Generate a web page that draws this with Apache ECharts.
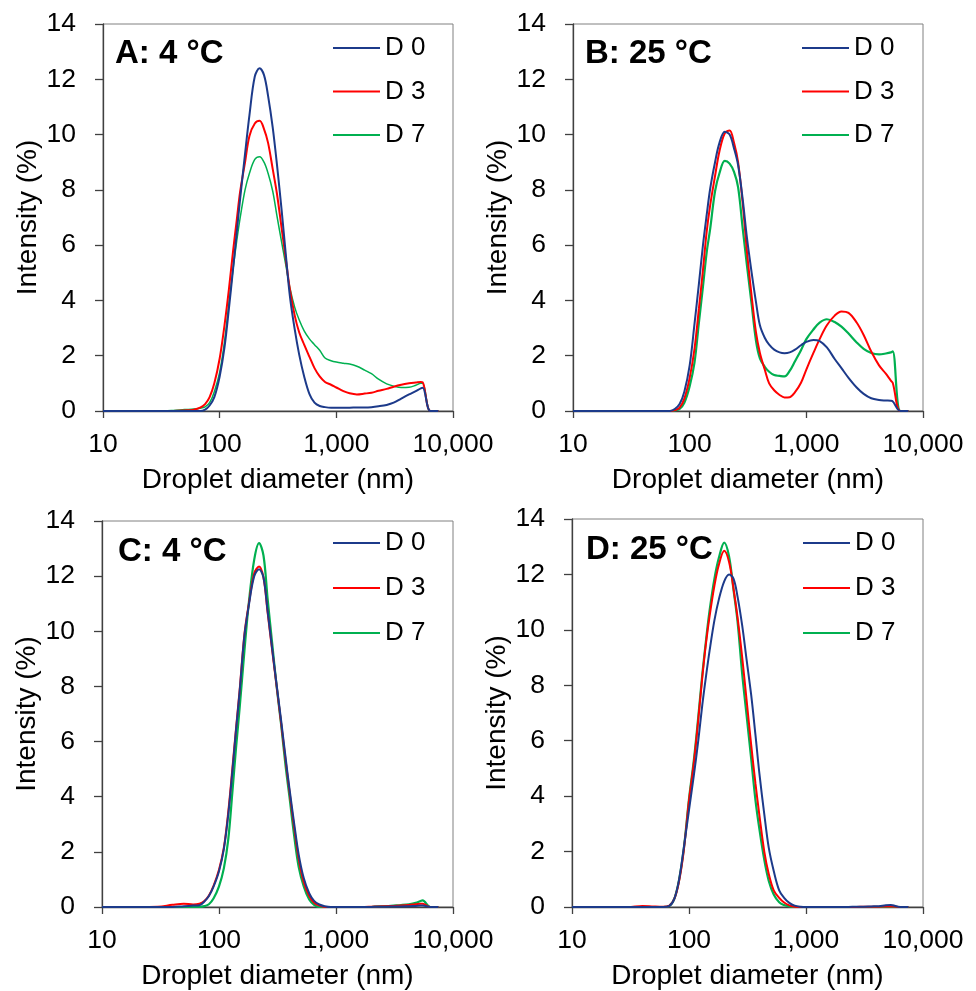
<!DOCTYPE html>
<html>
<head>
<meta charset="utf-8">
<script src="https://cdn.jsdelivr.net/npm/echarts@6/dist/echarts.min.js"></script>
<style>
  html, body { margin: 0; padding: 0; background: #fff; }
  #main { width: 976px; height: 991px; }
</style>
</head>
<body>
<div id="main"></div>
<script>
// droplet diameter bins (nm)
var sizes = [10, 20, 30, 40, 50, 60, 68, 75, 82, 90,
    100, 110, 120, 130, 140, 150, 165, 180, 200, 220,
    240, 260, 285, 310, 340, 370, 400, 440, 480, 530,
    590, 650, 720, 800, 900, 1000, 1150, 1300, 1500, 1750,
    2000, 2300, 2700, 3100, 3600, 4200, 4800, 5300, 5500, 6400,
    7500];
var seriesNames = ['D 0', 'D 3', 'D 7'];
var xTicks = [10, 100, 1000, 10000];
var yTicks = [0, 2, 4, 6, 8, 10, 12, 14];

// A: 4 °C
var aD0 = [0, 0, 0, 0, 0, 0, 0, 0.05, 0.2, 0.5,
    1.25, 2.3, 3.7, 5.1, 6.45, 7.7, 9.3, 10.7, 12.1, 12.4,
    12.15, 11.4, 10.25, 8.9, 7.25, 5.6, 4.15, 2.95, 2.05, 1.25,
    0.6, 0.3, 0.18, 0.14, 0.12, 0.12, 0.12, 0.12, 0.13, 0.13,
    0.14, 0.17, 0.22, 0.3, 0.45, 0.6, 0.72, 0.82, 0.84, 0,
    0];
var aD3 = [0, 0, 0, 0, 0.02, 0.05, 0.12, 0.25, 0.5, 1.0,
    1.9, 3.1, 4.4, 5.75, 6.9, 7.95, 9.0, 9.95, 10.4, 10.5,
    10.2, 9.7, 8.75, 7.85, 6.6, 5.45, 4.4, 3.45, 2.85, 2.4,
    1.95, 1.55, 1.25, 1.05, 0.95, 0.85, 0.72, 0.64, 0.6, 0.63,
    0.66, 0.73, 0.8, 0.88, 0.95, 1.0, 1.03, 1.05, 1.04, 0,
    0];
var aD7 = [0, 0, 0, 0.02, 0.05, 0.07, 0.1, 0.15, 0.3, 0.7,
    1.4, 2.5, 3.9, 5.1, 6.15, 7.0, 8.0, 8.6, 9.1, 9.2,
    9.0, 8.6, 7.95, 7.05, 6.1, 5.25, 4.45, 3.75, 3.3, 2.9,
    2.6, 2.4, 2.2, 1.92, 1.82, 1.77, 1.73, 1.7, 1.62, 1.48,
    1.35, 1.15, 0.98, 0.9, 0.85, 0.86, 0.93, 1.0, 1.0, 0,
    0];

// B: 25 °C
var bD0 = [0, 0, 0, 0, 0, 0, 0, 0.08, 0.25, 0.7,
    1.65, 3.15, 4.6, 6.0, 7.1, 8.05, 9.0, 9.7, 10.1, 10.0,
    9.5, 8.9, 7.65, 6.25, 5.0, 3.95, 3.1, 2.65, 2.4, 2.22,
    2.12, 2.09, 2.12, 2.22, 2.38, 2.5, 2.57, 2.53, 2.3, 1.88,
    1.55, 1.2, 0.85, 0.62, 0.46, 0.4, 0.38, 0.37, 0.35, 0,
    0];
var bD3 = [0, 0, 0, 0, 0, 0, 0, 0.03, 0.12, 0.45,
    1.2, 2.25, 3.7, 5.1, 6.5, 7.45, 8.5, 9.4, 10.05, 10.15,
    9.7, 9.0, 7.5, 5.75, 4.15, 2.85, 2.1, 1.5, 1.0, 0.75,
    0.58, 0.49, 0.5, 0.68, 1.02, 1.5, 2.1, 2.6, 3.1, 3.45,
    3.6, 3.55, 3.2, 2.75, 2.15, 1.65, 1.35, 1.1, 1.02, 0,
    0];
var bD7 = [0, 0, 0, 0, 0, 0, 0, 0.02, 0.08, 0.3,
    0.9, 1.75, 3.2, 4.5, 5.75, 6.6, 7.95, 8.6, 9.05, 8.95,
    8.65, 8.1, 6.6, 5.25, 3.85, 2.55, 1.9, 1.6, 1.42, 1.3,
    1.27, 1.25, 1.45, 1.8, 2.2, 2.6, 2.95, 3.2, 3.32, 3.22,
    3.05, 2.8, 2.48, 2.25, 2.1, 2.05, 2.08, 2.12, 2.16, 0,
    0];

// C: 4 °C
var cD0 = [0, 0, 0, 0, 0.03, 0.05, 0.06, 0.2, 0.4, 0.75,
    1.3, 2.1, 3.35, 4.9, 6.45, 7.8, 9.85, 10.95, 12.0, 12.25,
    11.95, 10.75, 9.35, 8.1, 6.75, 5.45, 4.3, 3.0, 1.9, 1.05,
    0.5, 0.22, 0.09, 0.03, 0, 0, 0, 0, 0, 0,
    0, 0.01, 0.01, 0.02, 0.02, 0.03, 0.04, 0.05, 0.05, 0,
    0];
var cD3 = [0, 0, 0.01, 0.08, 0.12, 0.09, 0.12, 0.22, 0.42, 0.78,
    1.35, 2.15, 3.45, 5.0, 6.5, 7.85, 9.9, 11.0, 12.1, 12.35,
    11.95, 10.7, 9.3, 8.05, 6.65, 5.35, 4.2, 2.85, 1.75, 0.9,
    0.4, 0.15, 0.05, 0, 0, 0, 0, 0, 0, 0,
    0.01, 0.02, 0.03, 0.04, 0.05, 0.07, 0.1, 0.12, 0.12, 0,
    0];
var cD7 = [0, 0, 0, 0, 0, 0, 0, 0.03, 0.1, 0.32,
    0.75, 1.4, 2.45, 4.15, 5.8, 7.2, 9.3, 11.05, 12.6, 13.2,
    12.75, 11.2, 9.55, 8.05, 6.6, 5.15, 4.0, 2.55, 1.45, 0.75,
    0.27, 0.08, 0, 0, 0, 0, 0, 0, 0, 0,
    0, 0.02, 0.03, 0.05, 0.07, 0.1, 0.15, 0.22, 0.24, 0,
    0];

// D: 25 °C
var dD0 = [0, 0, 0, 0, 0, 0, 0.04, 0.3, 0.95, 2.1,
    3.5, 4.75, 6.0, 7.3, 8.35, 9.25, 10.35, 11.1, 11.75, 12.0,
    11.85, 11.2, 10.15, 8.95, 7.65, 6.2, 4.8, 3.35, 2.15, 1.3,
    0.6, 0.33, 0.15, 0.05, 0.01, 0, 0, 0, 0, 0,
    0, 0, 0.01, 0.01, 0.02, 0.03, 0.06, 0.07, 0.06, 0,
    0];
var dD3 = [0, 0, 0, 0.04, 0.02, 0.01, 0.05, 0.3, 0.9, 2.0,
    3.85, 5.2, 6.75, 8.3, 9.55, 10.5, 11.6, 12.35, 12.85, 12.45,
    11.5, 10.45, 9.0, 7.5, 5.85, 4.45, 3.3, 2.0, 1.2, 0.6,
    0.33, 0.16, 0.06, 0.01, 0, 0, 0, 0, 0, 0,
    0, 0, 0, 0.01, 0.01, 0.01, 0.02, 0.02, 0.02, 0,
    0];
var dD7 = [0, 0, 0, 0, 0, 0, 0.04, 0.3, 0.95, 2.05,
    3.9, 5.3, 6.85, 8.4, 9.65, 10.7, 11.85, 12.6, 13.15, 12.65,
    11.45, 10.3, 8.4, 6.95, 5.35, 3.85, 2.8, 1.7, 0.95, 0.45,
    0.17, 0.07, 0.02, 0, 0, 0, 0, 0, 0, 0,
    0, 0, 0, 0, 0, 0, 0, 0, 0, 0,
    0];

var colors = ['#1C3A8A', '#FF0000', '#00B050'];
var font = 'Liberation Sans, Arial, sans-serif';

var panels = [
    {title: 'A: 4 °C', grid: {left: 103, top: 24, width: 350, height: 387}, tx: 115, ty: 37,
        lg: {left: 333, top: 35, gap: 17.5}, nameGap: 58, data: [aD0, aD3, aD7], widths: [2, 2, 1.5]},
    {title: 'B: 25 °C', grid: {left: 573, top: 24, width: 350, height: 387}, tx: 585, ty: 37,
        lg: {left: 802, top: 35, gap: 17.5}, nameGap: 56, data: [bD0, bD3, bD7], widths: [2, 2, 2.2]},
    {title: 'C: 4 °C', grid: {left: 102, top: 521, width: 351, height: 386}, tx: 118, ty: 535,
        lg: {left: 333, top: 530, gap: 19}, nameGap: 57, data: [cD0, cD3, cD7], widths: [2, 2, 2.2]},
    {title: 'D: 25 °C', grid: {left: 572, top: 519, width: 351, height: 388}, tx: 586, ty: 533,
        lg: {left: 803, top: 530, gap: 19}, nameGap: 57, data: [dD0, dD3, dD7], widths: [2, 2, 2.2]}
];

function fmt(v) {
    return Math.round(v).toString().replace(/\B(?=(\d{3})+(?!\d))/g, ',');
}

var option = {
    animation: false,
    backgroundColor: '#fff',
    textStyle: {fontFamily: font, color: '#000'},
    title: [], legend: [], grid: [], xAxis: [], yAxis: [], series: []
};

panels.forEach(function (p, k) {
    option.grid.push({left: p.grid.left, top: p.grid.top, width: p.grid.width, height: p.grid.height,
        show: true, borderColor: '#808080', borderWidth: 1, containLabel: false});
    option.title.push({text: p.title, left: p.tx, top: p.ty, padding: 0,
        textStyle: {fontFamily: font, fontSize: 33, fontWeight: 'bold', color: '#000'}});
    option.legend.push({
        data: seriesNames, orient: 'vertical', left: p.lg.left, top: p.lg.top, padding: 0,
        itemGap: p.lg.gap, itemWidth: 47, itemHeight: 2, icon: 'rect', selectedMode: false,
        textStyle: {fontFamily: font, fontSize: 26, lineHeight: 26, color: '#000'}
    });
    option.xAxis.push({
        gridIndex: k, type: 'log', logBase: 10, min: xTicks[0], max: xTicks[xTicks.length - 1],
        name: 'Droplet diameter (nm)', nameLocation: 'middle', nameGap: 55,
        nameTextStyle: {fontFamily: font, fontSize: 28, color: '#000'},
        axisLine: {show: true, lineStyle: {color: '#404040', width: 1.3}},
        axisTick: {show: true, length: 7, lineStyle: {color: '#404040', width: 1.3}},
        minorTick: {show: false}, splitLine: {show: false},
        axisLabel: {fontFamily: font, fontSize: 26.5, color: '#000', margin: 20, formatter: fmt}
    });
    option.yAxis.push({
        gridIndex: k, type: 'value', min: yTicks[0], max: yTicks[yTicks.length - 1], interval: 2,
        name: 'Intensity (%)', nameLocation: 'middle', nameGap: p.nameGap,
        nameTextStyle: {fontFamily: font, fontSize: 28, color: '#000'},
        axisLine: {show: true, lineStyle: {color: '#404040', width: 1.3}},
        axisTick: {show: true, length: 8, lineStyle: {color: '#404040', width: 1.3}},
        splitLine: {show: false},
        axisLabel: {fontFamily: font, fontSize: 26.5, color: '#000', margin: 27}
    });
    p.data.forEach(function (vals, j) {
        option.series.push({
            name: seriesNames[j], type: 'line', xAxisIndex: k, yAxisIndex: k,
            data: sizes.map(function (d, i) { return [d, vals[i]]; }),
            showSymbol: false, symbol: 'none', smooth: 0.35, clip: true,
            color: colors[j],
            lineStyle: {color: colors[j], width: p.widths[j]},
            z: 3 - j
        });
    });
});

var chart = echarts.init(document.getElementById('main'));
chart.setOption(option);
</script>
</body>
</html>
